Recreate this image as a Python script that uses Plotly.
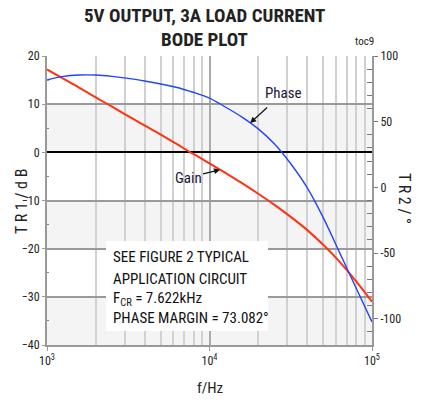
import numpy as np
import plotly.graph_objects as go

# ---------------- data ----------------
freq_hz = [1000, 1259, 1585, 1995, 2512, 3162, 3981, 5012, 6310, 7622, 7943,
           10000, 12589, 15849, 19953, 25119, 31623, 39811, 50119, 63096, 79433, 100000]
gain_db = [17.2, 15.3, 13.4, 11.4, 9.5, 7.5, 5.6, 3.7, 1.7, 0.0, -0.3,
           -2.3, -4.3, -6.4, -8.6, -10.9, -13.4, -16.1, -19.2, -22.7, -26.7, -31.0]
phase_deg = [81.7, 84.5, 85.5, 85.5, 84.5, 83.0, 81.0, 78.7, 76.0, 73.1, 72.4,
             68.0, 61.0, 53.5, 44.5, 33.0, 18.0, 0.0, -23.0, -49.5, -76.0, -102.5]

x_tick_vals = [1e3, 1e4, 1e5]
x_tick_text = ["10<sup>3</sup>", "10<sup>4</sup>", "10<sup>5</sup>"]
x_minor_vals = [2e3, 3e3, 4e3, 5e3, 6e3, 7e3, 8e3, 9e3,
                2e4, 3e4, 4e4, 5e4, 6e4, 7e4, 8e4, 9e4]
left_tick_vals = [20, 10, 0, -10, -20, -30, -40]
left_minor_vals = [15, 5, -5, -15, -25, -35]
right_tick_vals = [100, 50, 0, -50, -100]
right_tick_text = ["100", "50", "0", "-50", "-100"]
right_minor_vals = [90, 80, 70, 60, 40, 30, 20, 10, -10, -20, -30, -40,
                    -60, -70, -80, -90, -110]
shaded_bands = [(10, 0), (-10, -20), (-30, -40)]

title_lines = ["5V OUTPUT, 3A LOAD CURRENT", "BODE PLOT"]
note_lines = ["SEE FIGURE 2 TYPICAL", "APPLICATION CIRCUIT",
              "F<sub>CR</sub> = 7.622kHz", "PHASE MARGIN = 73.082°"]

# ---------------- layout helpers ----------------
W, H = 422, 402
L, R, T, B = 47, 50, 56, 57
PW, PH = W - L - R, H - T - B


def px(x):
    return (x - L) / PW


def py(y):
    return (H - B - y) / PH


NARROW = "Liberation Sans Narrow, Arial Narrow, Roboto Condensed, DejaVu Sans Condensed, sans-serif"
TXT = "#222222"


def label(text, x, y, size, angle=0, xanchor="center", color=TXT):
    return dict(text=text, xref="paper", yref="paper", x=px(x), y=py(y),
                xanchor=xanchor, yanchor="middle", showarrow=False, textangle=angle,
                font=dict(family=NARROW, size=size, color=color))


fig = go.Figure()
fig.add_trace(go.Scatter(x=freq_hz, y=gain_db, mode="lines", name="Gain",
                         line=dict(color="#ff3311", width=2, shape="spline"),
                         yaxis="y"))
fig.add_trace(go.Scatter(x=freq_hz, y=phase_deg, mode="lines", name="Phase",
                         line=dict(color="#2244ff", width=1.4, shape="spline"),
                         yaxis="y2"))

shapes = []
for top, bot in shaded_bands:
    shapes.append(dict(type="rect", xref="paper", yref="y", x0=0, x1=1, y0=bot, y1=top,
                       fillcolor="#f4f4f4", line=dict(width=0), layer="below"))
# white note box
shapes.append(dict(type="rect", xref="paper", yref="paper",
                   x0=px(106), x1=px(268), y0=py(331), y1=py(241),
                   fillcolor="white", line=dict(width=0), layer="above"))

annotations = [
    label("<b>" + title_lines[0] + "</b>", 204, 15, 19),
    label("<b>" + title_lines[1] + "</b>", 204, 39, 19),
    label("toc9", 364, 41, 11),
    label("T R 1 / d B", 21, 202, 16, angle=-90),
    label("T R 2 / °", 405, 198, 16, angle=90),
    label("f/Hz", 210, 388, 15),
]
for i, line in enumerate(note_lines):
    annotations.append(label(line, 111, [257, 279, 299, 318][i], 15, xanchor="left",
                             color="#111111"))

# curve labels with arrows
lf = np.log10(freq_hz)
ph_tip_f = 4.25
ph_tip_v = float(np.interp(ph_tip_f, lf, phase_deg))
annotations.append(dict(text="Phase", x=ph_tip_f, y=ph_tip_v, xref="x", yref="y2",
                        showarrow=True, arrowhead=2, arrowsize=1, arrowwidth=1.2,
                        arrowcolor="#111111", ax=33, ay=-30, startstandoff=6,
                        font=dict(family=NARROW, size=15, color="#1a1a3a")))
g_tip_f = 4.065
g_tip_v = float(np.interp(g_tip_f, lf, gain_db))
annotations.append(dict(text="Gain", x=g_tip_f, y=g_tip_v, xref="x", yref="y",
                        showarrow=True, arrowhead=2, arrowsize=1, arrowwidth=1.2,
                        arrowcolor="#111111", ax=-32, ay=8,
                        font=dict(family=NARROW, size=15, color="#1a1a3a")))

fig.update_layout(
    width=W, height=H,
    margin=dict(l=L, r=R, t=T, b=B, pad=0),
    paper_bgcolor="white", plot_bgcolor="white",
    showlegend=False,
    shapes=shapes, annotations=annotations,
    xaxis=dict(type="log", range=[3, 5], tickvals=x_tick_vals, ticktext=x_tick_text,
               ticks="outside", ticklen=4, tickcolor="#999999",
               showgrid=True, gridcolor="#aaaaaa", gridwidth=1.5,
               showline=True, linecolor="#999999", linewidth=2,
               tickfont=dict(family=NARROW, size=12, color=TXT),
               minor=dict(tickvals=x_minor_vals, showgrid=True, gridcolor="#d0d0d0",
                          gridwidth=1.5, ticks=""),
               zeroline=False),
    yaxis=dict(range=[-40, 20], tickvals=left_tick_vals, ticks="outside", ticklen=3,
               tickcolor="#999999", showgrid=True, gridcolor="#9a9a9a", gridwidth=2,
               showline=True, linecolor="#999999", linewidth=2,
               zeroline=True, zerolinecolor="#000000", zerolinewidth=2,
               tickfont=dict(family=NARROW, size=12, color=TXT),
               minor=dict(tickvals=left_minor_vals, ticks="inside", ticklen=2,
                          tickcolor="#888888", showgrid=False)),
    yaxis2=dict(range=[-120, 100], overlaying="y", side="right",
                tickvals=right_tick_vals, ticktext=right_tick_text,
                ticks="outside", ticklen=4, tickcolor="#777777",
                showgrid=False, zeroline=False,
                showline=True, linecolor="#999999", linewidth=2,
                tickfont=dict(family=NARROW, size=12, color=TXT),
                minor=dict(tickvals=right_minor_vals, ticks="inside", ticklen=5,
                           tickcolor="#777777", showgrid=False)),
)

fig.write_html("out.html", config={"displayModeBar": False},
               post_script="document.body.style.margin='0';")
